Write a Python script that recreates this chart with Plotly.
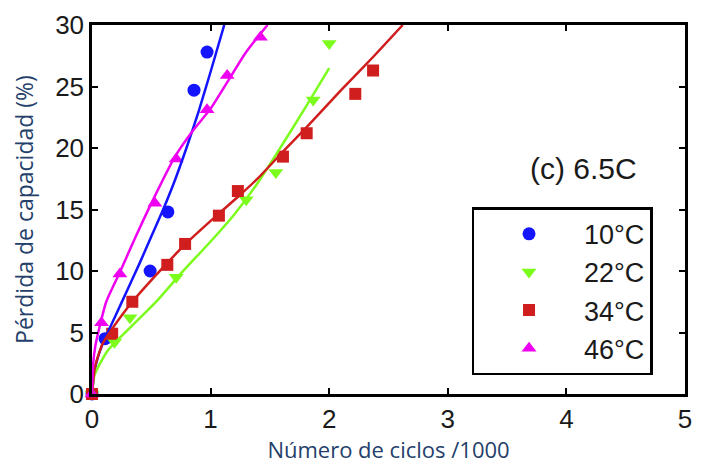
import plotly.graph_objects as go

# ---- data ----
labels = ["10°C", "22°C", "34°C", "46°C"]
colors = ["#1414ff", "#7cfc1c", "#d01e1e", "#f000f0"]
symbols = ["circle", "triangle-down", "square", "triangle-up"]

pts_x_10 = [0.0, 0.11, 0.49, 0.64, 0.86, 0.97]
pts_y_10 = [0.0, 4.5, 10.0, 14.8, 24.7, 27.8]
pts_x_22 = [0.0, 0.19, 0.32, 0.71, 1.30, 1.55, 1.865, 2.0]
pts_y_22 = [0.0, 4.2, 6.2, 9.5, 15.8, 18.0, 23.9, 28.5]
pts_x_34 = [0.0, 0.17, 0.34, 0.635, 0.785, 1.07, 1.23, 1.61, 1.81, 2.22, 2.37]
pts_y_34 = [0.0, 4.9, 7.5, 10.5, 12.2, 14.5, 16.5, 19.3, 21.2, 24.4, 26.3]
pts_x_46 = [0.0, 0.08, 0.235, 0.53, 0.71, 0.97, 1.14, 1.42]
pts_y_46 = [0.0, 5.8, 9.75, 15.5, 19.1, 23.1, 25.9, 29.0]

fit_x_10 = [0.0, 0.02, 0.05, 0.1, 0.2, 0.3, 0.4, 0.5, 0.6, 0.7, 0.8, 0.9, 1.0, 1.115]
fit_y_10 = [0.0, 1.8, 3.0, 4.3, 6.4, 8.5, 10.6, 12.8, 15.0, 17.4, 20.1, 23.0, 26.2, 30.0]
fit_x_22 = [0.0, 0.02, 0.13, 0.3, 0.55, 0.75, 1.0, 1.2, 1.4, 1.6, 1.8, 2.0]
fit_y_22 = [0.0, 1.5, 3.5, 5.2, 7.6, 9.8, 12.4, 14.6, 17.2, 20.2, 23.3, 26.5]
fit_x_34 = [0.0, 0.025, 0.09, 0.17, 0.34, 0.6, 0.8, 1.05, 1.25, 1.4, 1.61, 1.82, 2.1, 2.38, 2.62]
fit_y_34 = [0.0, 2.2, 4.1, 5.3, 7.5, 10.3, 12.3, 14.5, 16.2, 17.55, 19.7, 21.8, 24.7, 27.5, 30.0]
fit_x_46 = [0.0, 0.01, 0.03, 0.075, 0.12, 0.235, 0.35, 0.5, 0.7, 0.85, 1.0, 1.15, 1.3, 1.48]
fit_y_46 = [0.0, 2.5, 4.0, 5.9, 7.5, 9.9, 12.4, 15.5, 19.3, 21.4, 23.2, 25.5, 27.8, 30.0]

x_ticks = [0, 1, 2, 3, 4, 5]
y_ticks = [0, 5, 10, 15, 20, 25, 30]

pts = [(pts_x_10, pts_y_10), (pts_x_22, pts_y_22), (pts_x_34, pts_y_34), (pts_x_46, pts_y_46)]
fits = [(fit_x_10, fit_y_10), (fit_x_22, fit_y_22), (fit_x_34, fit_y_34), (fit_x_46, fit_y_46)]

fig = go.Figure()
for i in range(4):
    fig.add_trace(go.Scatter(
        x=pts[i][0], y=pts[i][1], mode="markers", name=labels[i],
        legendgroup=labels[i],
        marker=dict(symbol=symbols[i], color=colors[i], size=13 if symbols[i] != "square" else 12,
                    line=dict(width=0)),
        cliponaxis=False,
    ))
for i in range(4):
    fig.add_trace(go.Scatter(
        x=fits[i][0], y=fits[i][1], mode="lines", showlegend=False,
        line=dict(color=colors[i], width=2.5, shape="spline", smoothing=0.6),
    ))

axis_common = dict(
    showline=True, linecolor="black", linewidth=2.5, mirror="ticks",
    ticks="inside", ticklen=6, tickwidth=2, tickcolor="black",
    showgrid=False, zeroline=False,
    tickfont=dict(family="Liberation Sans, Arial", size=26, color="#1a1a1a"),
)
fig.update_xaxes(range=[0, 5], tickvals=x_ticks, **axis_common,
                 title=dict(text="Número de ciclos /1000", standoff=6,
                            font=dict(family="Open Sans", size=22, color="#24406a")))
fig.update_yaxes(range=[0, 30], tickvals=y_ticks, **axis_common,
                 title=dict(text="Pérdida de capacidad (%)", standoff=16,
                            font=dict(family="Open Sans", size=23, color="#24406a")))

fig.add_annotation(x=0.828, y=0.612, xref="paper", yref="paper", text="(c) 6.5C",
                   xanchor="center", yanchor="middle",
                   showarrow=False, font=dict(family="Liberation Sans, Arial", size=30, color="#1a1a1a"))

fig.update_layout(
    width=702, height=465,
    margin=dict(l=92, r=10, t=16, b=70),
    plot_bgcolor="white", paper_bgcolor="white",
    legend=dict(x=0.64, y=0.506, xanchor="left", yanchor="top",
                bordercolor="black", borderwidth=2.5, bgcolor="white",
                traceorder="grouped", tracegroupgap=0, itemwidth=100,
                font=dict(family="Liberation Sans, Arial", size=27, color="#1a1a1a")),
)

fig.write_html("out.html")
